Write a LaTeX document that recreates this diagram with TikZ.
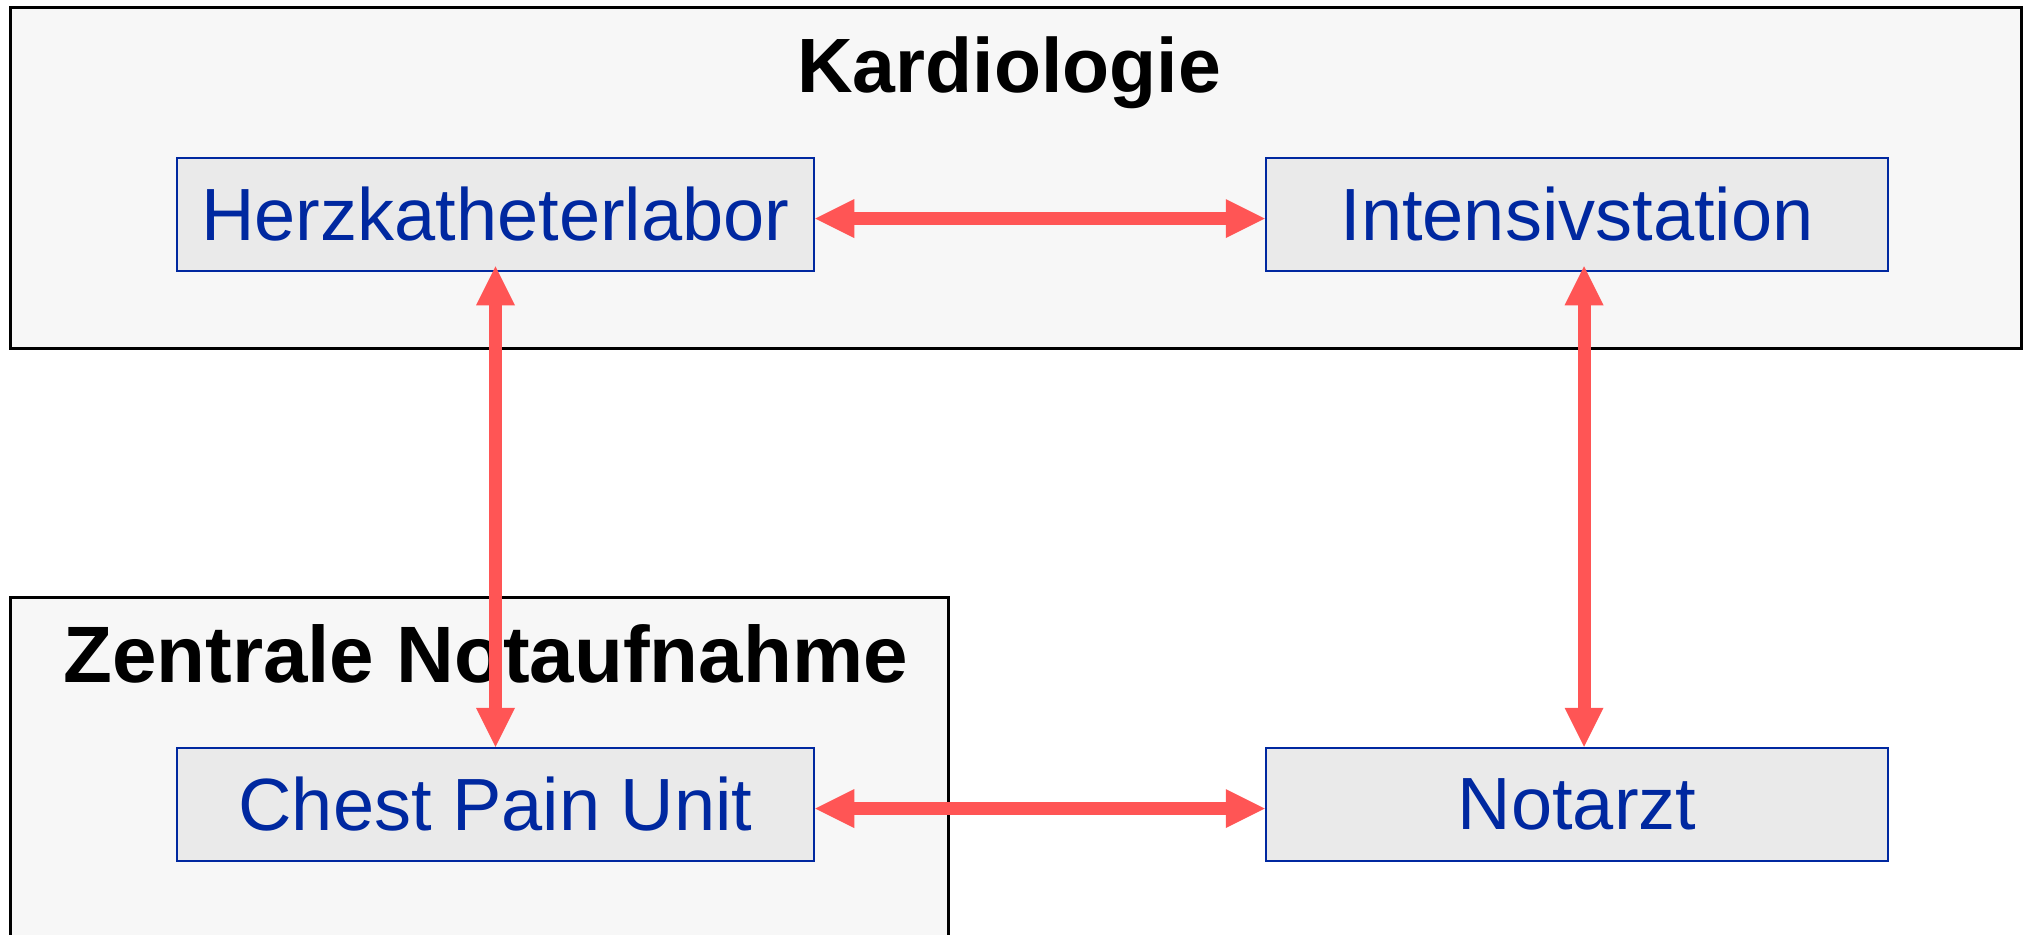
\documentclass[tikz,border=0pt]{standalone}
\usepackage{fontspec}
\setmainfont{Liberation Sans}
\usetikzlibrary{arrows.meta,positioning}

\definecolor{stationblue}{RGB}{0,40,160}
\definecolor{stationfill}{RGB}{234,234,234}
\definecolor{bereichfill}{RGB}{247,247,247}
\definecolor{linkred}{RGB}{255,85,85}

\begin{document}
\begin{tikzpicture}[
        x=0.5pt, y=-0.5pt,
        node distance=237.25pt and 224.75pt,
        station/.style={
            rectangle,
            draw=stationblue,
            line width=1.25pt,
            fill=stationfill,
            text=stationblue,
            minimum height=56.5pt,
            inner sep=0pt,
            font=\fontsize{37}{44}\selectfont
        },
        bereich/.style={draw=black, line width=1.5pt, fill=bereichfill},
        titel/.style={anchor=base, inner sep=0pt, font=\bfseries},
        link/.style={draw=linkred, line width=6.5pt, <->,
            >={Triangle[width=19.5pt,length=19.5pt,line width=0pt]}}
    ]
        \useasboundingbox (0,0) rectangle (2026,934);
        \clip (0,0) rectangle (2026,934);

        % -- Bereiche (Areas) --
        \draw [bereich] (10,7.5) rectangle (2021.5,348);
        \draw [bereich] (10,597) rectangle (948,980);
        \node [titel, font=\fontsize{38.5}{46}\selectfont\bfseries] (kardio) at (1009,92) {Kardiologie};
        \node [titel, font=\fontsize{40}{46}\selectfont\bfseries] (zna) at (485.5,682) {Zentrale Notaufnahme};

        % -- Knoten (Nodes) --
        \node [station, minimum width=318.5pt] (herz) at (495.5,214.5) {Herzkatheterlabor};
        \node [station, minimum width=311pt, right=of herz] (intens) {Intensivstation};
        \node [station, minimum width=318.5pt, below=of herz] (cpu) {Chest Pain Unit};
        \node [station, minimum width=311pt, right=of cpu] (notarzt) {Notarzt};

        % -- Verbindungen (Paths) --
        \path [link] ([yshift=-2pt]herz.east) -- ([yshift=-2pt]intens.west);
        \path [link] ([yshift=-2pt]cpu.east) -- ([yshift=-2pt]notarzt.west);
        \path [link, shorten <=-3pt] (herz.south) -- (cpu.north);
        \path [link, shorten <=-3pt] ([xshift=3.5pt]intens.south) -- ([xshift=3.5pt]notarzt.north);

    \end{tikzpicture}
\end{document}
